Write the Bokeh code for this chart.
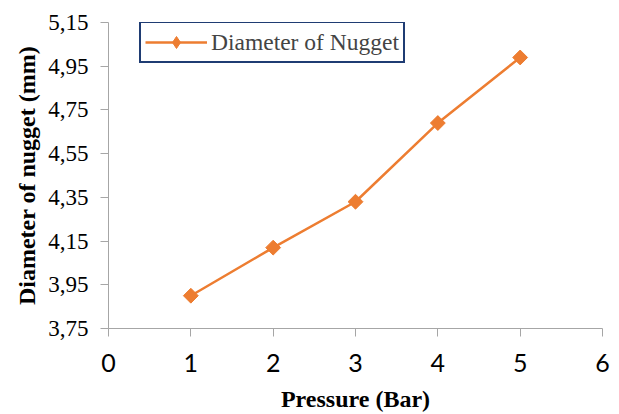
import math
from bokeh.plotting import figure
from bokeh.models import Range1d, FixedTicker, Legend, LegendItem
from bokeh.embed import file_html
from bokeh.resources import INLINE

pressure = [1, 2, 3, 4, 5]
diameter = [3.90, 4.12, 4.33, 4.69, 4.99]
series_name = "Diameter of Nugget"
x_ticks = [0, 1, 2, 3, 4, 5, 6]
y_ticks = [3.75, 3.95, 4.15, 4.35, 4.55, 4.75, 4.95, 5.15]
y_tick_labels = ["3,75", "3,95", "4,15", "4,35", "4,55", "4,75", "4,95", "5,15"]
x_title = "Pressure (Bar)"
y_title = "Diameter of nugget (mm)"

ORANGE = "#ED7D31"
AXIS = "#A6A6A6"
SERIF = "Liberation Serif"

x_lo, x_hi = x_ticks[0], x_ticks[-1]
y_lo, y_hi = y_ticks[0], y_ticks[-1]

p = figure(width=619, height=414, output_backend="svg", toolbar_location=None,
           x_range=Range1d(x_lo, x_hi), y_range=Range1d(y_lo, y_hi),
           min_border_left=108, min_border_right=17, min_border_top=22, min_border_bottom=86)
p.outline_line_color = None
p.xgrid.visible = False
p.ygrid.visible = False

r_line = p.line(pressure, diameter, line_color=ORANGE, line_width=2.5)
# diamond (used for the legend) hidden beneath the rotated squares
r_leg = p.scatter(pressure, diameter, marker="diamond", size=13, fill_color=ORANGE, line_color=ORANGE)
r_pts = p.scatter(pressure, diameter, marker="square", size=10.5, angle=math.pi / 4,
                  fill_color=ORANGE, line_color=ORANGE)

for ax in (p.xaxis[0], p.yaxis[0]):
    ax.axis_line_color = AXIS
    ax.major_tick_line_color = AXIS
    ax.major_tick_out = 8
    ax.major_tick_in = 0
    ax.minor_tick_line_color = None
    ax.major_label_text_color = "black"
    ax.axis_label_text_font = SERIF
    ax.axis_label_text_font_style = "bold"
    ax.axis_label_text_font_size = "24px"
    ax.axis_label_text_color = "black"

p.xaxis.ticker = FixedTicker(ticks=x_ticks)
p.xaxis.major_label_text_font = "Lato"
p.xaxis.major_label_text_font_size = "25px"
p.xaxis.major_label_standoff = 17
p.xaxis.axis_label = x_title
p.xaxis.axis_label_standoff = 11

p.yaxis.ticker = FixedTicker(ticks=y_ticks)
p.yaxis.major_label_overrides = {t: l for t, l in zip(y_ticks, y_tick_labels)}
p.yaxis.major_label_text_font = SERIF
p.yaxis.major_label_text_font_size = "23px"
p.yaxis.major_label_standoff = 12
p.yaxis.axis_label = y_title
p.yaxis.axis_label_standoff = 5

legend = Legend(items=[LegendItem(label=series_name, renderers=[r_line, r_leg])],
                location=(31, 265), margin=0, padding=4, spacing=0,
                glyph_width=62, glyph_height=30, label_standoff=4,
                label_text_font=SERIF, label_text_font_size="23.5px",
                border_line_color="#1F3C73", border_line_width=2, border_line_alpha=1.0,
                background_fill_alpha=1.0)
p.add_layout(legend, "center")

open("out.html", "w").write(file_html(p, INLINE))
